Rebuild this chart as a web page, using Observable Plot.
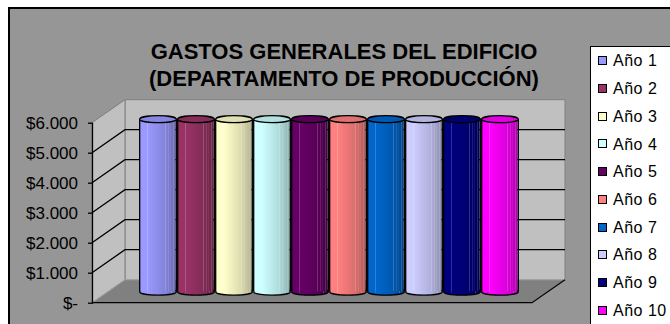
<!DOCTYPE html>
<html>
<head>
<meta charset="utf-8">
<script src="https://cdn.jsdelivr.net/npm/d3@7"></script>
<script src="https://cdn.jsdelivr.net/npm/@observablehq/plot@0.6"></script>
<style>
  html, body { margin: 0; padding: 0; background: #fff; width: 670px; height: 324px; overflow: hidden; font-family: "Liberation Sans", Arial, sans-serif; }
  #bg { position: absolute; left: 8px; top: 7px; width: 662px; height: 317px; background: #969696; border-left: 2px solid #000; border-top: 2px solid #000; box-sizing: border-box; }
  #title { position: absolute; left: 94px; width: 500px; top: 38px; text-align: center; font-weight: bold; font-size: 22px; line-height: 27px; color: #000; white-space: nowrap; }
  #legend { position: absolute; left: 590px; top: 46px; width: 100px; height: 300px; background: #fff; border: 1px solid #000; box-sizing: border-box; }
  .sw { position: absolute; left: 598px; width: 9px; height: 9px; border: 1px solid #000; box-sizing: border-box; }
  .lt { position: absolute; left: 613px; font-size: 16px; line-height: 16px; color: #000; white-space: nowrap; letter-spacing: 0.5px; }
  #plot { position: absolute; left: 0; top: 0; }
</style>
</head>
<body>
<div id="bg"></div>
<div id="title"></div>
<div id="legend"></div>
<div id="plot"></div>
<script>
// ---- data ----
const years = ["Año 1", "Año 2", "Año 3", "Año 4", "Año 5", "Año 6", "Año 7", "Año 8", "Año 9", "Año 10"];
const gastos = [5750, 5750, 5750, 5750, 5750, 5750, 5750, 5750, 5750, 5750];
const colores = ["#9999FF", "#993366", "#FFFFCC", "#CCFFFF", "#660066", "#FF8080", "#0066CC", "#CCCCFF", "#000080", "#FF00FF"];
const yTicks = [0, 1000, 2000, 3000, 4000, 5000, 6000];
const yLabels = ["$-", "$1.000", "$2.000", "$3.000", "$4.000", "$5.000", "$6.000"];
const titulo = ["GASTOS GENERALES DEL EDIFICIO", "(DEPARTAMENTO DE PRODUCCIÓN)"];

const data = years.map((year, i) => ({
  year, value: gastos[i], id: i,
  top: d3.interpolateRgb(colores[i], "#000")(0.12)
}));

// ---- layout ----
const W = 670, H = 324;
const M = {left: 92, right: 138, top: 122.7, bottom: 21.3};
const depth = {dx: 33, dy: -23};
const mid = {dx: depth.dx / 2, dy: depth.dy / 2};
const xOpts = {type: "band", domain: years, paddingInner: 0.04, paddingOuter: 0.787};
const xs = Plot.scale({x: {...xOpts, range: [M.left, W - M.right]}});
const bw = xs.bandwidth;
const K = 0.19; // ellipse ratio

const ellipse = {
  draw(ctx, size) {
    const rx = Math.sqrt(size / Math.PI), ry = rx * K, c = 0.5522847498;
    ctx.moveTo(rx, 0);
    ctx.bezierCurveTo(rx, ry * c, rx * c, ry, 0, ry);
    ctx.bezierCurveTo(-rx * c, ry, -rx, ry * c, -rx, 0);
    ctx.bezierCurveTo(-rx, -ry * c, -rx * c, -ry, 0, -ry);
    ctx.bezierCurveTo(rx * c, -ry, rx, -ry * c, rx, 0);
    ctx.closePath();
  }
};

function walls(index, scales, values, dims) {
  const y = scales.y;
  const L = dims.marginLeft, R = dims.width - dims.marginRight;
  const B = y(yTicks[0]), T = y(yTicks[yTicks.length - 1]);
  const {dx, dy} = depth;
  const g = d3.create("svg:g");
  const path = (d, fill, stroke, sw) => g.append("path").attr("d", d).attr("fill", fill).attr("stroke", stroke).attr("stroke-width", sw);
  const poly = pts => "M" + pts.map(p => p.join(",")).join("L") + "Z";
  path(poly([[L + dx, T + dy], [R + dx, T + dy], [R + dx, B + dy], [L + dx, B + dy]]), "#c0c0c0", "#808080", 1);
  path(poly([[L, T], [L + dx, T + dy], [L + dx, B + dy], [L, B]]), "#c0c0c0", "#808080", 1);
  path(poly([[L, B], [R, B], [R + dx, B + dy], [L + dx, B + dy]]), "#808080", "#a8a8a8", 1);
  path(`M${L},${B}L${R},${B}L${R + dx},${B + dy}`, "none", "#000", 1.3);
  for (const t of yTicks.slice(1, -1)) {
    const yy = y(t);
    path(`M${L},${yy}L${L + dx},${yy + dy}L${R + dx},${yy + dy}`, "none", "#000", 1.3);
  }
  return g.node();
}

const fillOf = d => `url(#cyl${d.id})`;

const svg = Plot.plot({
  width: W, height: H,
  marginLeft: M.left, marginRight: M.right, marginTop: M.top, marginBottom: M.bottom,
  style: {background: "transparent", color: "#000", fontFamily: "'Liberation Sans', Arial, sans-serif", overflow: "visible"},
  x: {...xOpts, axis: null},
  y: {domain: [0, 6000], axis: null, label: null},
  color: {type: "identity"},
  marks: [
    walls,
    Plot.frame({anchor: "left", stroke: "#000", strokeWidth: 1.3}),
    Plot.axisY({ticks: yTicks, tickFormat: d => yLabels[yTicks.indexOf(d)], tickSize: 4, tickPadding: 10.5, fontSize: 17, label: null, stroke: "#000", strokeWidth: 1.3}),
    Plot.dot(data, {x: "year", y: 0, r: bw / 2, symbol: ellipse, fill: fillOf, stroke: "#000", strokeWidth: 1.3, dx: mid.dx, dy: mid.dy}),
    Plot.barY(data, {x: "year", y: "value", fill: fillOf, dx: mid.dx, dy: mid.dy}),
    Plot.ruleX(data, {x: "year", y1: 0, y2: "value", dx: mid.dx - bw / 2, dy: mid.dy, stroke: "#000", strokeWidth: 1.3}),
    Plot.ruleX(data, {x: "year", y1: 0, y2: "value", dx: mid.dx + bw / 2, dy: mid.dy, stroke: "#000", strokeWidth: 1.3}),
    Plot.dot(data, {x: "year", y: "value", r: bw / 2, symbol: ellipse, fill: "top", stroke: "#000", strokeWidth: 1.3, dx: mid.dx, dy: mid.dy})
  ]
});

// cylinder shading gradients
const defs = d3.select(svg).insert("defs", ":first-child");
data.forEach((d, i) => {
  const base = colores[i];
  const dark = d3.interpolateRgb(base, "#000");
  const light = c => d3.interpolateRgb(c, "#fff")(0.22);
  const shade = t => t < 0.45 ? base : dark(0.3 * (t - 0.45) / 0.55);
  const lg = defs.append("linearGradient").attr("id", "cyl" + d.id).attr("x1", 0).attr("x2", 1).attr("y1", 0).attr("y2", 0);
  const stripes = [0.22, 0.72, 0.80, 0.87, 0.94];
  const pts = [0];
  stripes.forEach(s => pts.push(s - 0.012, s, s + 0.012));
  pts.push(1);
  pts.forEach(t => {
    const c = stripes.includes(t) ? light(shade(t)) : shade(t);
    lg.append("stop").attr("offset", t).attr("stop-color", c);
  });
});

document.getElementById("plot").appendChild(svg);

// title
const tEl = document.getElementById("title");
titulo.forEach(line => { const div = document.createElement("div"); div.textContent = line; tEl.appendChild(div); });

// legend
years.forEach((y, i) => {
  const cy = 60.8 + 27.7 * i;
  const sw = document.createElement("div");
  sw.className = "sw"; sw.style.top = (cy - 4.5) + "px"; sw.style.background = colores[i];
  document.body.appendChild(sw);
  const lt = document.createElement("div");
  lt.className = "lt"; lt.style.top = (cy - 7.4) + "px"; lt.textContent = y;
  document.body.appendChild(lt);
});
</script>
</body>
</html>
